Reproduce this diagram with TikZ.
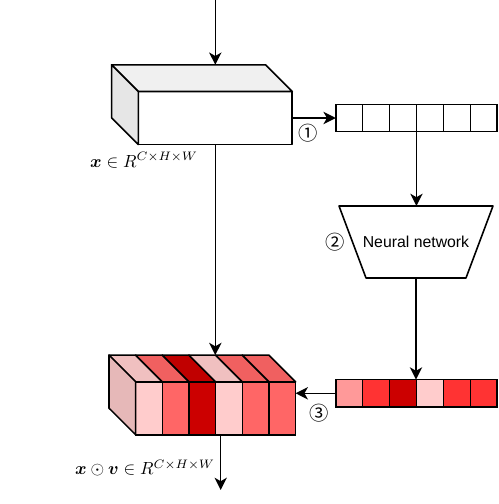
\documentclass[tikz,border=0pt]{standalone}
\usepackage{amsmath,amssymb}
\usepackage{fontspec}
\usepackage{tikz}
\usetikzlibrary{positioning,calc,arrows.meta}

\newfontfamily\nnfont{Liberation Sans}
\newfontfamily\circfont{Noto Sans CJK SC}

\definecolor{pinkfront}{HTML}{FFCCCC}
\definecolor{pinktop}{HTML}{F0C0C0}
\definecolor{pinkside}{HTML}{E6B8B8}
\definecolor{redfront}{HTML}{FF6666}
\definecolor{redtop}{HTML}{F06060}
\definecolor{darkfront}{HTML}{CC0000}
\definecolor{darktop}{HTML}{C00000}
\definecolor{graytop}{HTML}{F0F0F0}
\definecolor{grayside}{HTML}{E6E6E6}
\definecolor{wsalmon}{HTML}{FF9999}
\definecolor{wred}{HTML}{FF3333}

\begin{document}
\begin{tikzpicture}[x=0.02cm,y=-0.02cm]
        \tikzstyle{face}=[draw, line width=0.9pt, line join=round]
        \tikzstyle{cell}=[draw, line width=0.9pt, inner sep=0pt, outer sep=0pt, minimum width=0.538cm, minimum height=0.548cm]
        \tikzstyle{slice}=[draw, line width=0.9pt, inner sep=0pt, outer sep=0pt, minimum width=0.533cm, minimum height=1.06cm]
        \tikzstyle{arr}=[line width=0.9pt, -{Stealth[length=7pt,width=7pt,inset=2pt]}]
        \tikzstyle{circnum}=[font=\circfont\fontsize{11}{12}\selectfont]

        \useasboundingbox (0,0) rectangle (499,504);

        % input feature map
        \node[face, fill=white, inner sep=0pt, outer sep=0pt, minimum width=3.08cm, minimum height=1.06cm] (feat) at (215.3,118) {};
        \filldraw[face, fill=graytop] (feat.north west) -- ++(-26.7,-26.7) -- ++(154,0) -- (feat.north east) -- cycle;
        \filldraw[face, fill=grayside] (feat.north west) -- ++(-26.7,-26.7) -- ++(0,53) -- (feat.south west) -- cycle;
        \coordinate (feattop) at ($(feat.north)+(0,-26.7)$);
        \coordinate (in) at (215.3,0);
        \node (lx) at (144,160) {$\boldsymbol{x}\in R^{C\times H\times W}$};

        % pooled vector
        \node[cell] (v1) at (349.2,118) {};
        \node[cell] (v2) at (376.1,118) {};
        \node[cell] (v3) at (403.0,118) {};
        \node[cell] (v4) at (429.9,118) {};
        \node[cell] (v5) at (456.9,118) {};
        \node[cell] (v6) at (483.8,118) {};
        \node[circnum] (n1) at (308,133) {①};

        % network
        \node[inner sep=0pt, outer sep=0pt, minimum width=3.08cm, minimum height=1.44cm] (nn) at (416,242)
              {\nnfont\fontsize{9}{11}\selectfont Neural network};
        \draw[face] (nn.north west) -- (nn.north east) -- ($(nn.south east)+(-27,0)$)
              -- ($(nn.south west)+(27,0)$) -- cycle;
        \node[circnum] (n2) at (335,242) {②};

        % weight vector
        \node[cell, fill=wsalmon]   (w1) at (349.2,393.3) {};
        \node[cell, fill=wred]      (w2) at (376.1,393.3) {};
        \node[cell, fill=darkfront] (w3) at (403.0,393.3) {};
        \node[cell, fill=pinkfront] (w4) at (429.9,393.3) {};
        \node[cell, fill=wred]      (w5) at (456.9,393.3) {};
        \node[cell, fill=wred]      (w6) at (483.8,393.3) {};
        \node[circnum] (n3) at (319,413) {③};

        % reweighted feature map
        \node[slice, fill=pinkfront] (s1) at (149.0,408.3) {};
        \node[slice, fill=redfront]  (s2) at (175.7,408.3) {};
        \node[slice, fill=darkfront] (s3) at (202.3,408.3) {};
        \node[slice, fill=pinkfront] (s4) at (229.0,408.3) {};
        \node[slice, fill=redfront]  (s5) at (255.7,408.3) {};
        \node[slice, fill=redfront]  (s6) at (282.3,408.3) {};
        \filldraw[face, fill=pinktop] (s1.north west) -- ++(-26.7,-26.7) -- ++(26.67,0) -- (s1.north east) -- cycle;
        \filldraw[face, fill=redtop]  (s2.north west) -- ++(-26.7,-26.7) -- ++(26.67,0) -- (s2.north east) -- cycle;
        \filldraw[face, fill=darktop] (s3.north west) -- ++(-26.7,-26.7) -- ++(26.67,0) -- (s3.north east) -- cycle;
        \filldraw[face, fill=pinktop] (s4.north west) -- ++(-26.7,-26.7) -- ++(26.67,0) -- (s4.north east) -- cycle;
        \filldraw[face, fill=redtop]  (s5.north west) -- ++(-26.7,-26.7) -- ++(26.67,0) -- (s5.north east) -- cycle;
        \filldraw[face, fill=redtop]  (s6.north west) -- ++(-26.7,-26.7) -- ++(26.67,0) -- (s6.north east) -- cycle;
        \filldraw[face, fill=pinkside] (s1.north west) -- ++(-26.7,-26.7) -- ++(0,53) -- (s1.south west) -- cycle;
        \coordinate (outtop) at ($(s3.north east)+(0,-26.7)$);
        \coordinate (out) at (220.7,490);
        \node (lxv) at (145,468) {$\boldsymbol{x}\odot\boldsymbol{v}\in R^{C\times H\times W}$};

        % connectors
        \draw[arr] (in) -- (feattop);
        \draw[arr] (feat.east) -- (v1.west);
        \draw[arr] (v3.south east) -- (v3.south east |- nn.north);
        \draw[arr] (nn.south) -- (nn.south |- w3.north east);
        \draw[arr] (feat.south) -- (feat.south |- outtop);
        \draw[arr] (w1.west) -- (w1.west -| s6.east);
        \draw[arr] (out |- s4.south) -- (out);
    \end{tikzpicture}
\end{document}
